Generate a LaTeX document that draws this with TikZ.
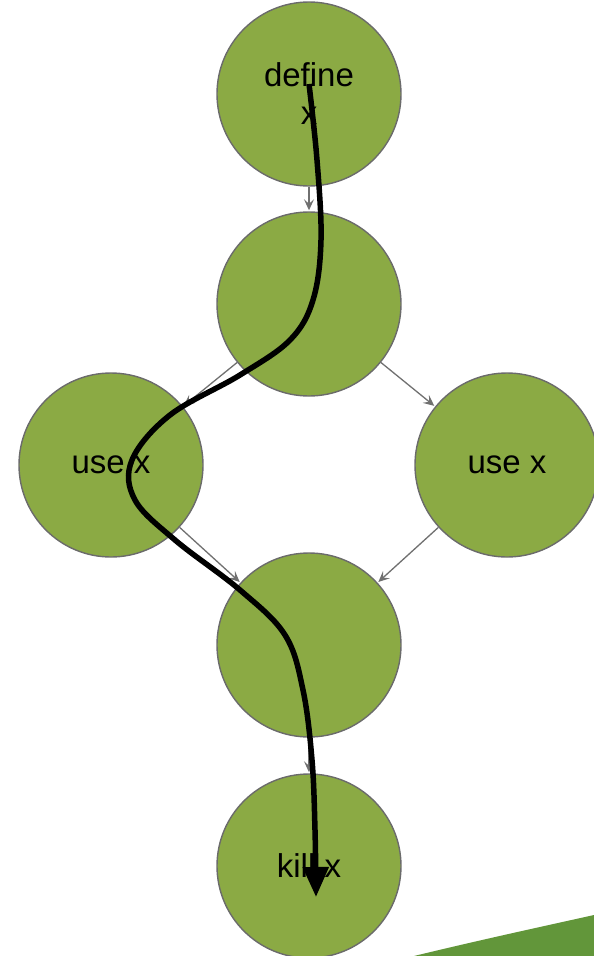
\documentclass[tikz,border=0pt]{standalone}
\usepackage{fontspec}
\setmainfont{Liberation Sans}
\usetikzlibrary{arrows.meta}
\definecolor{leaf}{HTML}{8BAA44}
\definecolor{rim}{HTML}{6B6B6B}
\definecolor{edgegray}{HTML}{707070}
\definecolor{swoosh}{HTML}{62963A}
\begin{document}
\begin{tikzpicture}[x=1pt,y=-1pt,
  blk/.style={circle, fill=leaf, draw=rim, line width=1.4pt, minimum size=184pt, inner sep=0pt,
    align=center, font=\fontsize{33}{38}\selectfont},
  flow/.style={draw=edgegray, line width=1.3pt, -{Stealth[length=11pt,width=10pt,inset=4.5pt]}, shorten >=1pt}]
\useasboundingbox (0,0) rectangle (594,956);
% decorative swoosh in the corner
\fill[swoosh] (414,956) .. controls (480,940) and (540,927) .. (594,915) -- (594,956) -- cycle;
% control-flow blocks
\node[blk] (def) at (309,94) {define\\x};
\node[blk] (split) at (309,304) {};
\node[blk] (useL) at (111,465) {use x};
\node[blk] (useR) at (507,465) {use x};
\node[blk] (join) at (309,645) {};
\node[blk] (kill) at (309,866) {kill x};
% edges
\draw[flow] (def) -- (split);
\draw[flow] (split) -- (useL);
\draw[flow] (split) -- (useR);
\draw[flow] (useL) -- (join);
\draw[flow] (useR) -- (join);
\draw[flow] (join) -- (kill);
% live path of x
\coordinate (p0) at (309,84);
\coordinate (p1) at (316,897);
\draw[line width=5.5pt, -{Triangle[length=30pt,width=25pt]}] plot[smooth, tension=0.6] coordinates {
  (p0) (317,160) (321,240) (313,300) (290,340) (240,375) (170,415) (132,460) (135,500)
  (175,540) (240,590) (285,635) (303,690) (312,760) (315,830) (p1)};
\end{tikzpicture}
\end{document}
